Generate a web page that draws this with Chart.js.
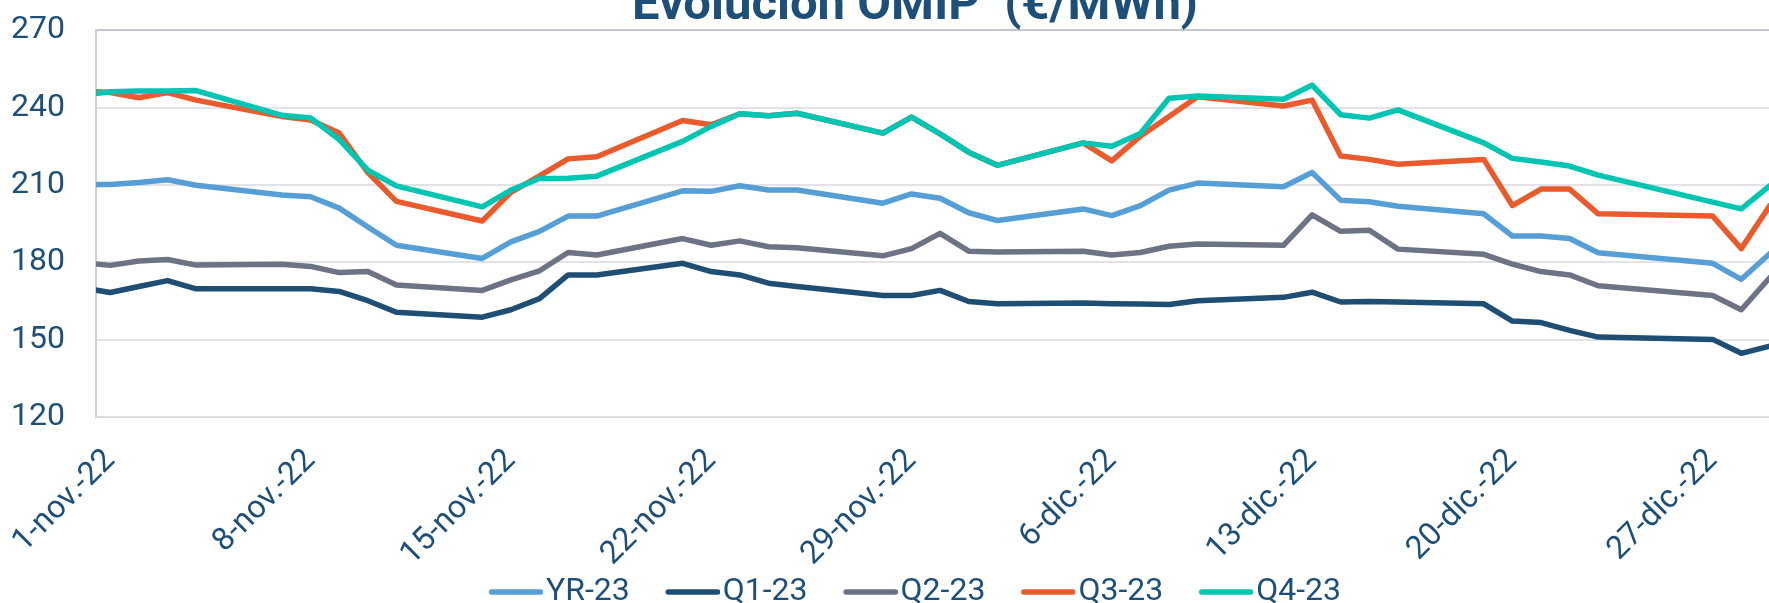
<!DOCTYPE html>
<html>
<head>
<meta charset="utf-8">
<title>Evolución OMIP</title>
<script src="https://cdn.jsdelivr.net/npm/chart.js@4.4.1/dist/chart.umd.min.js"></script>
<style>
  html, body { margin: 0; padding: 0; background: #fff; }
  /* the reference is a crop: title cut at the top, plot cut at the right */
  #frame { position: relative; width: 1769px; height: 603px; overflow: hidden; }
  #frame canvas { position: absolute; left: 0; top: -20px; }
</style>
</head>
<body>
<div id="frame"><canvas id="omipChart" width="1830" height="638"></canvas></div>
<script>
// Trading days (31-oct is only partly visible at the left edge)
const dates = [
    '2022-10-31',
    '2022-11-01', '2022-11-02', '2022-11-03', '2022-11-04',
    '2022-11-07', '2022-11-08', '2022-11-09', '2022-11-10', '2022-11-11',
    '2022-11-14', '2022-11-15', '2022-11-16', '2022-11-17', '2022-11-18',
    '2022-11-21', '2022-11-22', '2022-11-23', '2022-11-24', '2022-11-25',
    '2022-11-28', '2022-11-29', '2022-11-30', '2022-12-01', '2022-12-02',
    '2022-12-05', '2022-12-06', '2022-12-07', '2022-12-08', '2022-12-09',
    '2022-12-12', '2022-12-13', '2022-12-14', '2022-12-15', '2022-12-16',
    '2022-12-19', '2022-12-20', '2022-12-21', '2022-12-22', '2022-12-23',
    '2022-12-27', '2022-12-28', '2022-12-29',
];

const yr23 = [
    210.2, 210.2, 210.9, 212.0, 209.9,
    206.1, 205.4, 201.0, 193.7, 186.6,
    181.5, 187.9, 192.0, 197.9, 197.9,
    207.7, 207.5, 209.7, 208.0, 208.0,
    202.9, 206.5, 204.8, 199.2, 196.2,
    200.7, 198.1, 202.0, 208.0, 210.7,
    209.3, 214.8, 204.1, 203.5, 201.7,
    198.8, 190.2, 190.2, 189.2, 183.7,
    179.6, 173.4, 183.4,
];

const q123 = [
    170.1, 168.3, 170.6, 172.9, 169.7,
    169.7, 169.7, 168.7, 165.1, 160.6,
    158.7, 161.6, 165.9, 175.1, 175.1,
    179.6, 176.4, 175.1, 171.9, 170.6,
    167.1, 167.1, 169.1, 164.8, 163.9,
    164.2, 163.9, 163.8, 163.6, 165.1,
    166.4, 168.4, 164.6, 164.8, 164.6,
    163.9, 157.2, 156.6, 153.6, 151.0,
    150.1, 144.7, 147.5,
];

const q223 = [
    179.8, 178.8, 180.5, 181.1, 178.9,
    179.2, 178.4, 176.0, 176.4, 171.2,
    169.1, 173.2, 176.7, 183.8, 182.8,
    189.2, 186.6, 188.3, 186.0, 185.6,
    182.5, 185.3, 191.2, 184.3, 184.0,
    184.3, 182.8, 183.8, 186.2, 187.1,
    186.6, 198.4, 192.0, 192.4, 185.1,
    183.1, 179.3, 176.4, 175.1, 170.9,
    167.1, 161.6, 174.1,
];

const q323 = [
    246.5, 245.8, 243.8, 245.8, 242.9,
    236.5, 235.2, 230.1, 214.8, 203.6,
    196.0, 207.1, 213.5, 220.1, 220.9,
    235.0, 233.3, 237.6, 236.8, 237.8,
    230.1, 236.3, 229.8, 222.7, 217.6,
    226.3, 219.3, 228.9, 236.5, 244.2,
    240.6, 242.9, 221.2, 219.9, 218.0,
    219.9, 202.0, 208.4, 208.4, 198.8,
    197.9, 185.3, 202.0,
];

const q423 = [
    244.9, 246.1, 246.4, 246.4, 246.6,
    237.0, 236.0, 227.6, 215.7, 209.6,
    201.5, 208.0, 212.5, 212.6, 213.4,
    226.9, 232.7, 237.6, 236.8, 237.8,
    230.1, 236.3, 229.8, 222.7, 217.6,
    226.3, 225.0, 229.9, 243.6, 244.5,
    243.2, 248.7, 237.2, 235.9, 239.1,
    226.3, 220.3, 218.9, 217.3, 213.8,
    203.3, 200.7, 209.7,
];

// weekly axis labels, in days after 1-nov-22
const tickDays = [0, 7, 14, 21, 28, 35, 42, 49, 56];
const tickLabels = [
    '1-nov.-22', '8-nov.-22', '15-nov.-22', '22-nov.-22', '29-nov.-22',
    '6-dic.-22', '13-dic.-22', '20-dic.-22', '27-dic.-22',
];

const INK = '#1E4F78';
const FONT = "Roboto, 'Noto Sans', sans-serif";
const DAY0 = Date.parse('2022-11-01');

const dayOffset = (d) => (Date.parse(d) - DAY0) / 86400000;
const toPoints = (values) => values.map((v, i) => ({ x: dayOffset(dates[i]), y: v }));

// legend swatch: a short thick line that sits right next to its label
function lineSwatch(color) {
    const c = document.createElement('canvas');
    c.width = 67;
    c.height = 8;
    const g = c.getContext('2d');
    g.strokeStyle = color;
    g.lineWidth = 5.5;
    g.lineCap = 'round';
    g.beginPath();
    g.moveTo(15.5, 4);
    g.lineTo(64.5, 4);
    g.stroke();
    return c;
}

// let the rotated tick labels spill below the x axis box instead of being clipped
const labelRoom = {
    id: 'labelRoom',
    afterLayout(chart) {
        chart.scales.x.bottom = chart.height;
    },
};

const series = [
    { label: 'YR-23', values: yr23, color: '#569FD6' },
    { label: 'Q1-23', values: q123, color: '#1E4E74' },
    { label: 'Q2-23', values: q223, color: '#6C7385' },
    { label: 'Q3-23', values: q323, color: '#E95A2C' },
    { label: 'Q4-23', values: q423, color: '#00C5B2' },
];

new Chart(document.getElementById('omipChart'), {
    type: 'line',
    data: {
        datasets: series.map((s, i) => ({
            label: s.label,
            data: toPoints(s.values),
            borderColor: s.color,
            backgroundColor: s.color,
            borderWidth: 5.5,
            borderCapStyle: 'round',
            borderJoinStyle: 'round',
            pointRadius: 0,
            pointStyle: lineSwatch(s.color),
            tension: 0,
            clip: 0,
            // later series are painted on top, like the original
            order: series.length - i,
        })),
    },
    plugins: [labelRoom],
    options: {
        responsive: false,
        animation: false,
        layout: { padding: 0 },
        plugins: {
            title: {
                display: true,
                text: 'Evolución OMIP  (€/MWh)',
                color: INK,
                font: { family: FONT, size: 49, weight: 'bold', lineHeight: 0.94 },
                padding: 0,
            },
            legend: {
                position: 'bottom',
                labels: {
                    usePointStyle: true,
                    pointStyleWidth: 41,
                    padding: 36,
                    color: INK,
                    font: { family: FONT, size: 32 },
                    sort: (a, b) => a.datasetIndex - b.datasetIndex,
                },
            },
            tooltip: { enabled: false },
        },
        scales: {
            x: {
                type: 'linear',
                min: -0.5,
                max: 60.1,
                grid: { display: false, drawTicks: false },
                border: { display: true, color: '#DCDCE2', width: 2 },
                afterBuildTicks: (scale) => {
                    scale.ticks = tickDays.map((v) => ({ value: v }));
                },
                afterFit: (scale) => {
                    scale.height = 123;
                    scale.paddingLeft = 0;
                    scale.paddingRight = 0;
                },
                ticks: {
                    autoSkip: false,
                    minRotation: 45,
                    maxRotation: 45,
                    padding: 25,
                    color: INK,
                    font: { family: FONT, size: 32 },
                    callback: (v, i) => tickLabels[i],
                },
            },
            y: {
                min: 120,
                max: 270,
                grid: {
                    drawTicks: false,
                    lineWidth: 2,
                    color: (c) => (c.tick && c.tick.value === 270 ? '#C4C7D0' : '#E2E2E8'),
                },
                border: { display: true, color: '#CDD0D8', width: 2 },
                afterFit: (scale) => {
                    scale.width = 96;
                },
                ticks: {
                    stepSize: 30,
                    padding: 31,
                    color: INK,
                    font: { family: FONT, size: 32 },
                },
            },
        },
    },
});
</script>
</body>
</html>
